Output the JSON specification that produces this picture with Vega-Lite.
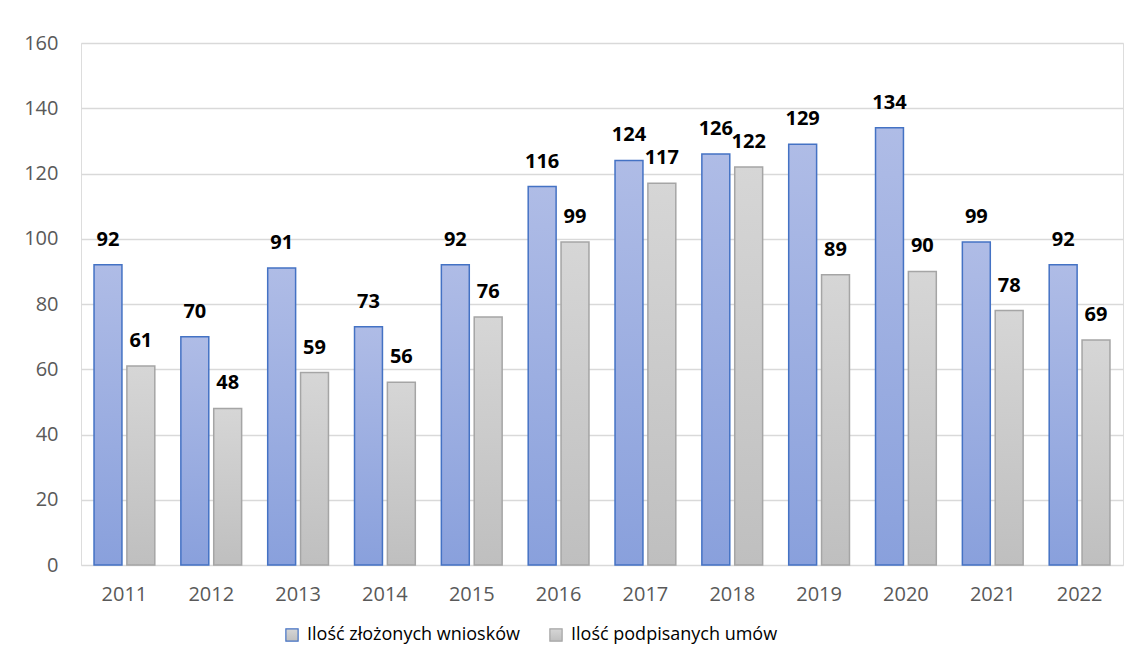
{
  "$schema": "https://vega.github.io/schema/vega-lite/v6.json",
  "width": 1042,
  "height": 522,
  "autosize": {"type": "none"},
  "padding": {"left": 81, "top": 43, "right": 9, "bottom": 101},
  "background": "white",
  "data": {
    "values": [
      {"year": "2011", "series": "Ilość złożonych wniosków", "value": 92},
      {"year": "2011", "series": "Ilość podpisanych umów", "value": 61},
      {"year": "2012", "series": "Ilość złożonych wniosków", "value": 70},
      {"year": "2012", "series": "Ilość podpisanych umów", "value": 48},
      {"year": "2013", "series": "Ilość złożonych wniosków", "value": 91},
      {"year": "2013", "series": "Ilość podpisanych umów", "value": 59},
      {"year": "2014", "series": "Ilość złożonych wniosków", "value": 73},
      {"year": "2014", "series": "Ilość podpisanych umów", "value": 56},
      {"year": "2015", "series": "Ilość złożonych wniosków", "value": 92},
      {"year": "2015", "series": "Ilość podpisanych umów", "value": 76},
      {"year": "2016", "series": "Ilość złożonych wniosków", "value": 116},
      {"year": "2016", "series": "Ilość podpisanych umów", "value": 99},
      {"year": "2017", "series": "Ilość złożonych wniosków", "value": 124},
      {"year": "2017", "series": "Ilość podpisanych umów", "value": 117},
      {"year": "2018", "series": "Ilość złożonych wniosków", "value": 126},
      {"year": "2018", "series": "Ilość podpisanych umów", "value": 122},
      {"year": "2019", "series": "Ilość złożonych wniosków", "value": 129},
      {"year": "2019", "series": "Ilość podpisanych umów", "value": 89},
      {"year": "2020", "series": "Ilość złożonych wniosków", "value": 134},
      {"year": "2020", "series": "Ilość podpisanych umów", "value": 90},
      {"year": "2021", "series": "Ilość złożonych wniosków", "value": 99},
      {"year": "2021", "series": "Ilość podpisanych umów", "value": 78},
      {"year": "2022", "series": "Ilość złożonych wniosków", "value": 92},
      {"year": "2022", "series": "Ilość podpisanych umów", "value": 69}
    ]
  },
  "encoding": {
    "x": {
      "field": "year", "type": "nominal", "title": null,
      "scale": {"paddingInner": 0.3, "paddingOuter": 0.15},
      "axis": {"labelAngle": 0, "domain": false, "ticks": false, "labelPadding": 19, "labelFontSize": 20, "labelColor": "#595959", "labelFont": "Open Sans", "grid": false}
    },
    "xOffset": {
      "field": "series", "type": "nominal",
      "scale": {"domain": ["Ilość złożonych wniosków", "Ilość podpisanych umów"], "paddingInner": 0.15}
    },
    "y": {
      "field": "value", "type": "quantitative", "title": null,
      "scale": {"domain": [0, 160]},
      "axis": {"values": [0, 20, 40, 60, 80, 100, 120, 140, 160], "domain": false, "ticks": false, "labelPadding": 23, "labelFontSize": 20, "labelColor": "#595959", "labelFont": "Open Sans", "gridColor": "#d9d9d9", "gridWidth": 1.3}
    }
  },
  "layer": [
    {
      "mark": {"type": "bar", "strokeWidth": 1.5},
      "encoding": {
        "fill": {
          "condition": {
            "test": "datum.series === 'Ilość złożonych wniosków'",
            "value": {"gradient": "linear", "x1": 0, "y1": 0, "x2": 0, "y2": 1, "stops": [{"offset": 0, "color": "#afbce6"}, {"offset": 1, "color": "#89a0dc"}]}
          },
          "value": {"gradient": "linear", "x1": 0, "y1": 0, "x2": 0, "y2": 1, "stops": [{"offset": 0, "color": "#d6d6d6"}, {"offset": 1, "color": "#bfbfbf"}]}
        },
        "stroke": {
          "field": "series", "type": "nominal",
          "scale": {"domain": ["Ilość złożonych wniosków", "Ilość podpisanych umów"], "range": ["#4472c4", "#a5a5a5"]},
          "legend": {
            "title": null, "orient": "none", "legendX": 202, "legendY": 583, "direction": "horizontal",
            "symbolType": "square", "symbolSize": 150, "symbolStrokeWidth": 1.2,
            "labelFontSize": 18, "labelFont": "Open Sans", "labelLimit": 400, "columnPadding": 27, "labelOffset": 6,
            "encode": {
              "symbols": {"update": {"fill": {"signal": "datum.value === 'Ilość złożonych wniosków' ? '#9aaee0' : '#cbcbcb'"}, "fillOpacity": {"value": 1}}},
              "labels": {"update": {"fill": {"signal": "datum.value === 'Ilość złożonych wniosków' ? '#000000' : '#595959'"}}}
            }
          }
        }
      }
    },
    {
      "mark": {"type": "text", "baseline": "alphabetic", "dy": -19, "fontSize": 20, "fontWeight": "bold", "font": "Open Sans", "color": "#000000"},
      "encoding": {"text": {"field": "value", "type": "quantitative"}}
    }
  ]
}
